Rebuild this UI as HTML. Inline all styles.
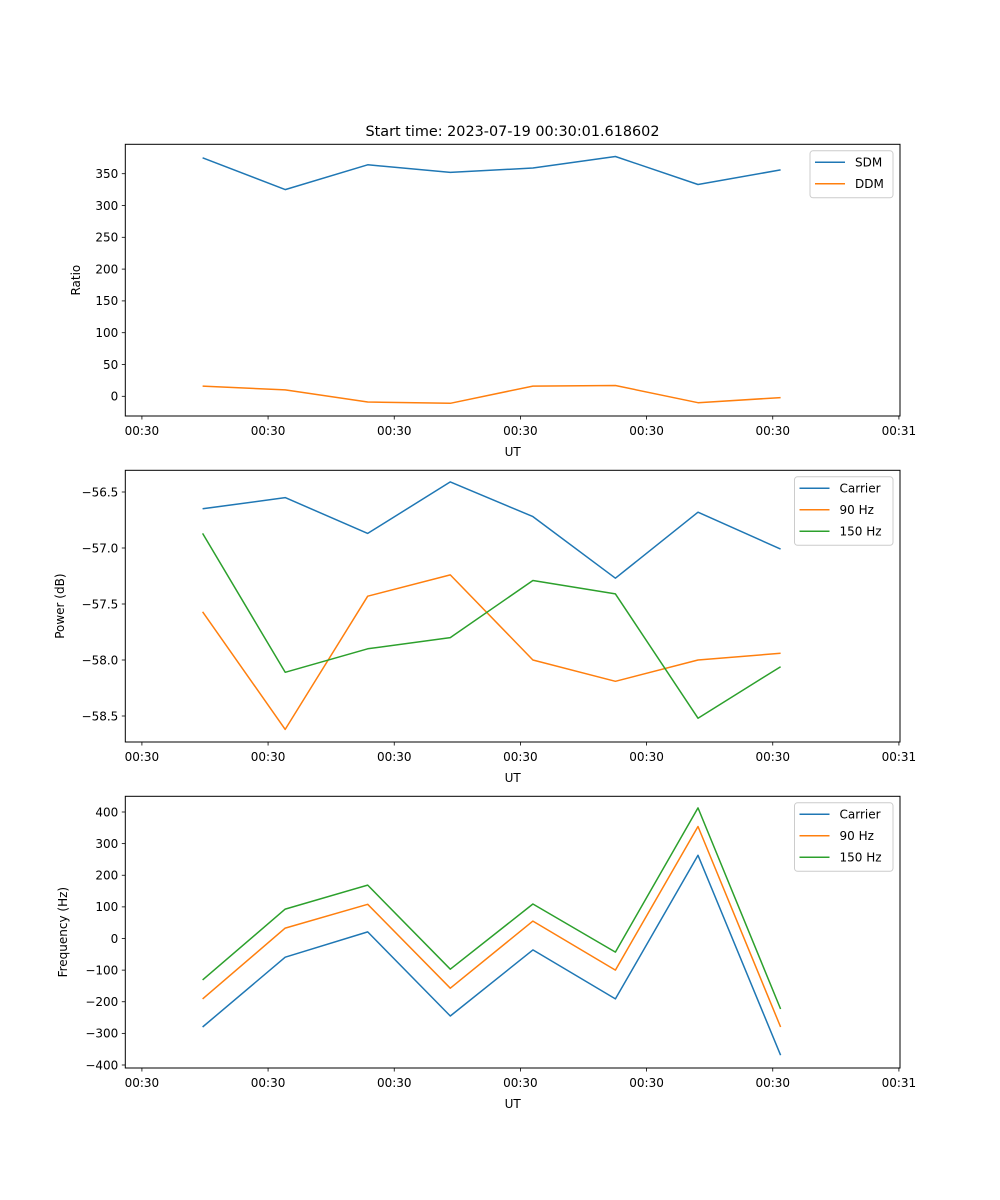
<!DOCTYPE html>
<html><head><meta charset="utf-8"><style>
body{margin:0;background:#fff}
svg{display:block;font-family:"DejaVu Sans","Liberation Sans",sans-serif}
</style></head><body>
<svg id="fig" width="1000" height="1200" viewBox="0 0 1000 1200" xmlns="http://www.w3.org/2000/svg">
<rect width="1000" height="1200" fill="#fff"/>
<text x="512.5" y="136" font-size="14.4" text-anchor="middle">Start time: 2023-07-19 00:30:01.618602</text>
</svg>
<script>
const sampleIdx = [0,1,2,3,4,5,6,7];
const xTickPos = [-0.735,0.793,2.321,3.849,5.377,6.905,8.433];
const xTickLabels = ["00:30","00:30","00:30","00:30","00:30","00:30","00:31"];

const ratioSDM = [375,325,364,352,359,377,333,356];
const ratioDDM = [16,10,-9,-11,16,17,-10,-2];
const ratioTicks = [0,50,100,150,200,250,300,350];

const powCarrier = [-56.65,-56.55,-56.87,-56.41,-56.72,-57.27,-56.68,-57.01];
const pow90 = [-57.57,-58.62,-57.43,-57.24,-58.0,-58.19,-58.0,-57.94];
const pow150 = [-56.87,-58.11,-57.9,-57.8,-57.29,-57.41,-58.52,-58.06];
const powTicks = [-58.5,-58.0,-57.5,-57.0,-56.5];
const powTickLabels = ["\u221258.5","\u221258.0","\u221257.5","\u221257.0","\u221256.5"];

const freqCarrier = [-280,-59,21,-245,-36,-191,263,-369];
const freq90 = [-191,33,108,-157,55,-100,354,-280];
const freq150 = [-131,93,169,-97,109,-43,413,-223];
const freqTicks = [-400,-300,-200,-100,0,100,200,300,400];
const freqTickLabels = ["\u2212400","\u2212300","\u2212200","\u2212100","0","100","200","300","400"];

const C = ["#1f77b4","#ff7f0e","#2ca02c"];
const NS = "http://www.w3.org/2000/svg";
const svg = document.getElementById("fig");
function el(tag, attrs, parent, text){
  const e = document.createElementNS(NS, tag);
  for (const k in attrs) e.setAttribute(k, attrs[k]);
  if (text !== undefined) e.textContent = text;
  (parent||svg).appendChild(e);
  return e;
}
const L = 125.3, R = 900;
function xs(v){ return 202.6 + v * 82.57; }

function panel(name, top, bottom, yTopVal, yTopPx, yBotVal, yBotPx, ticks, tickLabels, ylabel, ylabelX, series, names, legend){
  const g = el("g", {}, svg);
  
  
  const ys = v => yBotPx + (v - yBotVal) * (yTopPx - yBotPx) / (yTopVal - yBotVal);
  series.forEach((s, si) => {
    const d = s.map((v, i) => (i ? "L" : "M") + xs(sampleIdx[i]).toFixed(1) + "," + ys(v).toFixed(1)).join(" ");
    const p = el("path", {d: d, fill: "none", stroke: C[si], "stroke-width": 1.5, "stroke-linejoin": "round"}, g);
    
    
  });
  const f = el("rect", {x: L, y: top, width: R - L, height: bottom - top, fill: "none", stroke: "#000", "stroke-width": 1}, g);
  
  
  ticks.forEach((t, i) => {
    const y = ys(t);
    el("line", {x1: L - 3.5, x2: L, y1: y, y2: y, stroke: "#000", "stroke-width": 0.8}, g);
    const tx = el("text", {x: L - 7, y: y + 4.3, "font-size": 12, "text-anchor": "end"}, g, tickLabels ? tickLabels[i] : String(t));
    
    
  });
  xTickPos.forEach((t, i) => {
    const x = xs(t);
    el("line", {x1: x, x2: x, y1: bottom, y2: bottom + 3.5, stroke: "#000", "stroke-width": 0.8}, g);
    const tx = el("text", {x: x, y: bottom + 19, "font-size": 12, "text-anchor": "middle"}, g, xTickLabels[i]);
    
    
  });
  const xl = el("text", {x: (L + R) / 2, y: bottom + 40, "font-size": 12, "text-anchor": "middle"}, g, "UT");
  
  
  const cy = (top + bottom) / 2;
  const yl = el("text", {x: ylabelX, y: cy, "font-size": 12, "text-anchor": "middle", transform: "rotate(-90 " + ylabelX + " " + cy + ")"}, g, ylabel);
  
  
  const lg = el("g", {}, g);
  
  
  el("rect", {x: legend[0], y: top + 6.5, width: 893 - legend[0], height: names.length * 21.5 + 4, rx: 3, fill: "#fff", "fill-opacity": 0.8, stroke: "#ccc", "stroke-width": 1}, lg);
  names.forEach((n, i) => {
    const y = top + 18 + i * 21.5;
    el("line", {x1: legend[0] + 5, x2: legend[0] + 35, y1: y, y2: y, stroke: C[i], "stroke-width": 1.5}, lg);
    const t = el("text", {x: legend[0] + 45, y: y + 4.3, "font-size": 12}, lg, n);
    
    
  });
}

panel("ratio-panel", 144.3, 416, 350, 173.7, 0, 396.3, ratioTicks, null, "Ratio", 80, [ratioSDM, ratioDDM], ["SDM", "DDM"], [810]);
panel("power-panel", 470.3, 742, -56.5, 492, -58.5, 716, powTicks, powTickLabels, "Power (dB)", 64, [powCarrier, pow90, pow150], ["Carrier", "90 Hz", "150 Hz"], [794.5]);
panel("frequency-panel", 796.3, 1068, 400, 812, -400, 1065, freqTicks, freqTickLabels, "Frequency (Hz)", 67, [freqCarrier, freq90, freq150], ["Carrier", "90 Hz", "150 Hz"], [794.5]);
</script>
</body></html>
